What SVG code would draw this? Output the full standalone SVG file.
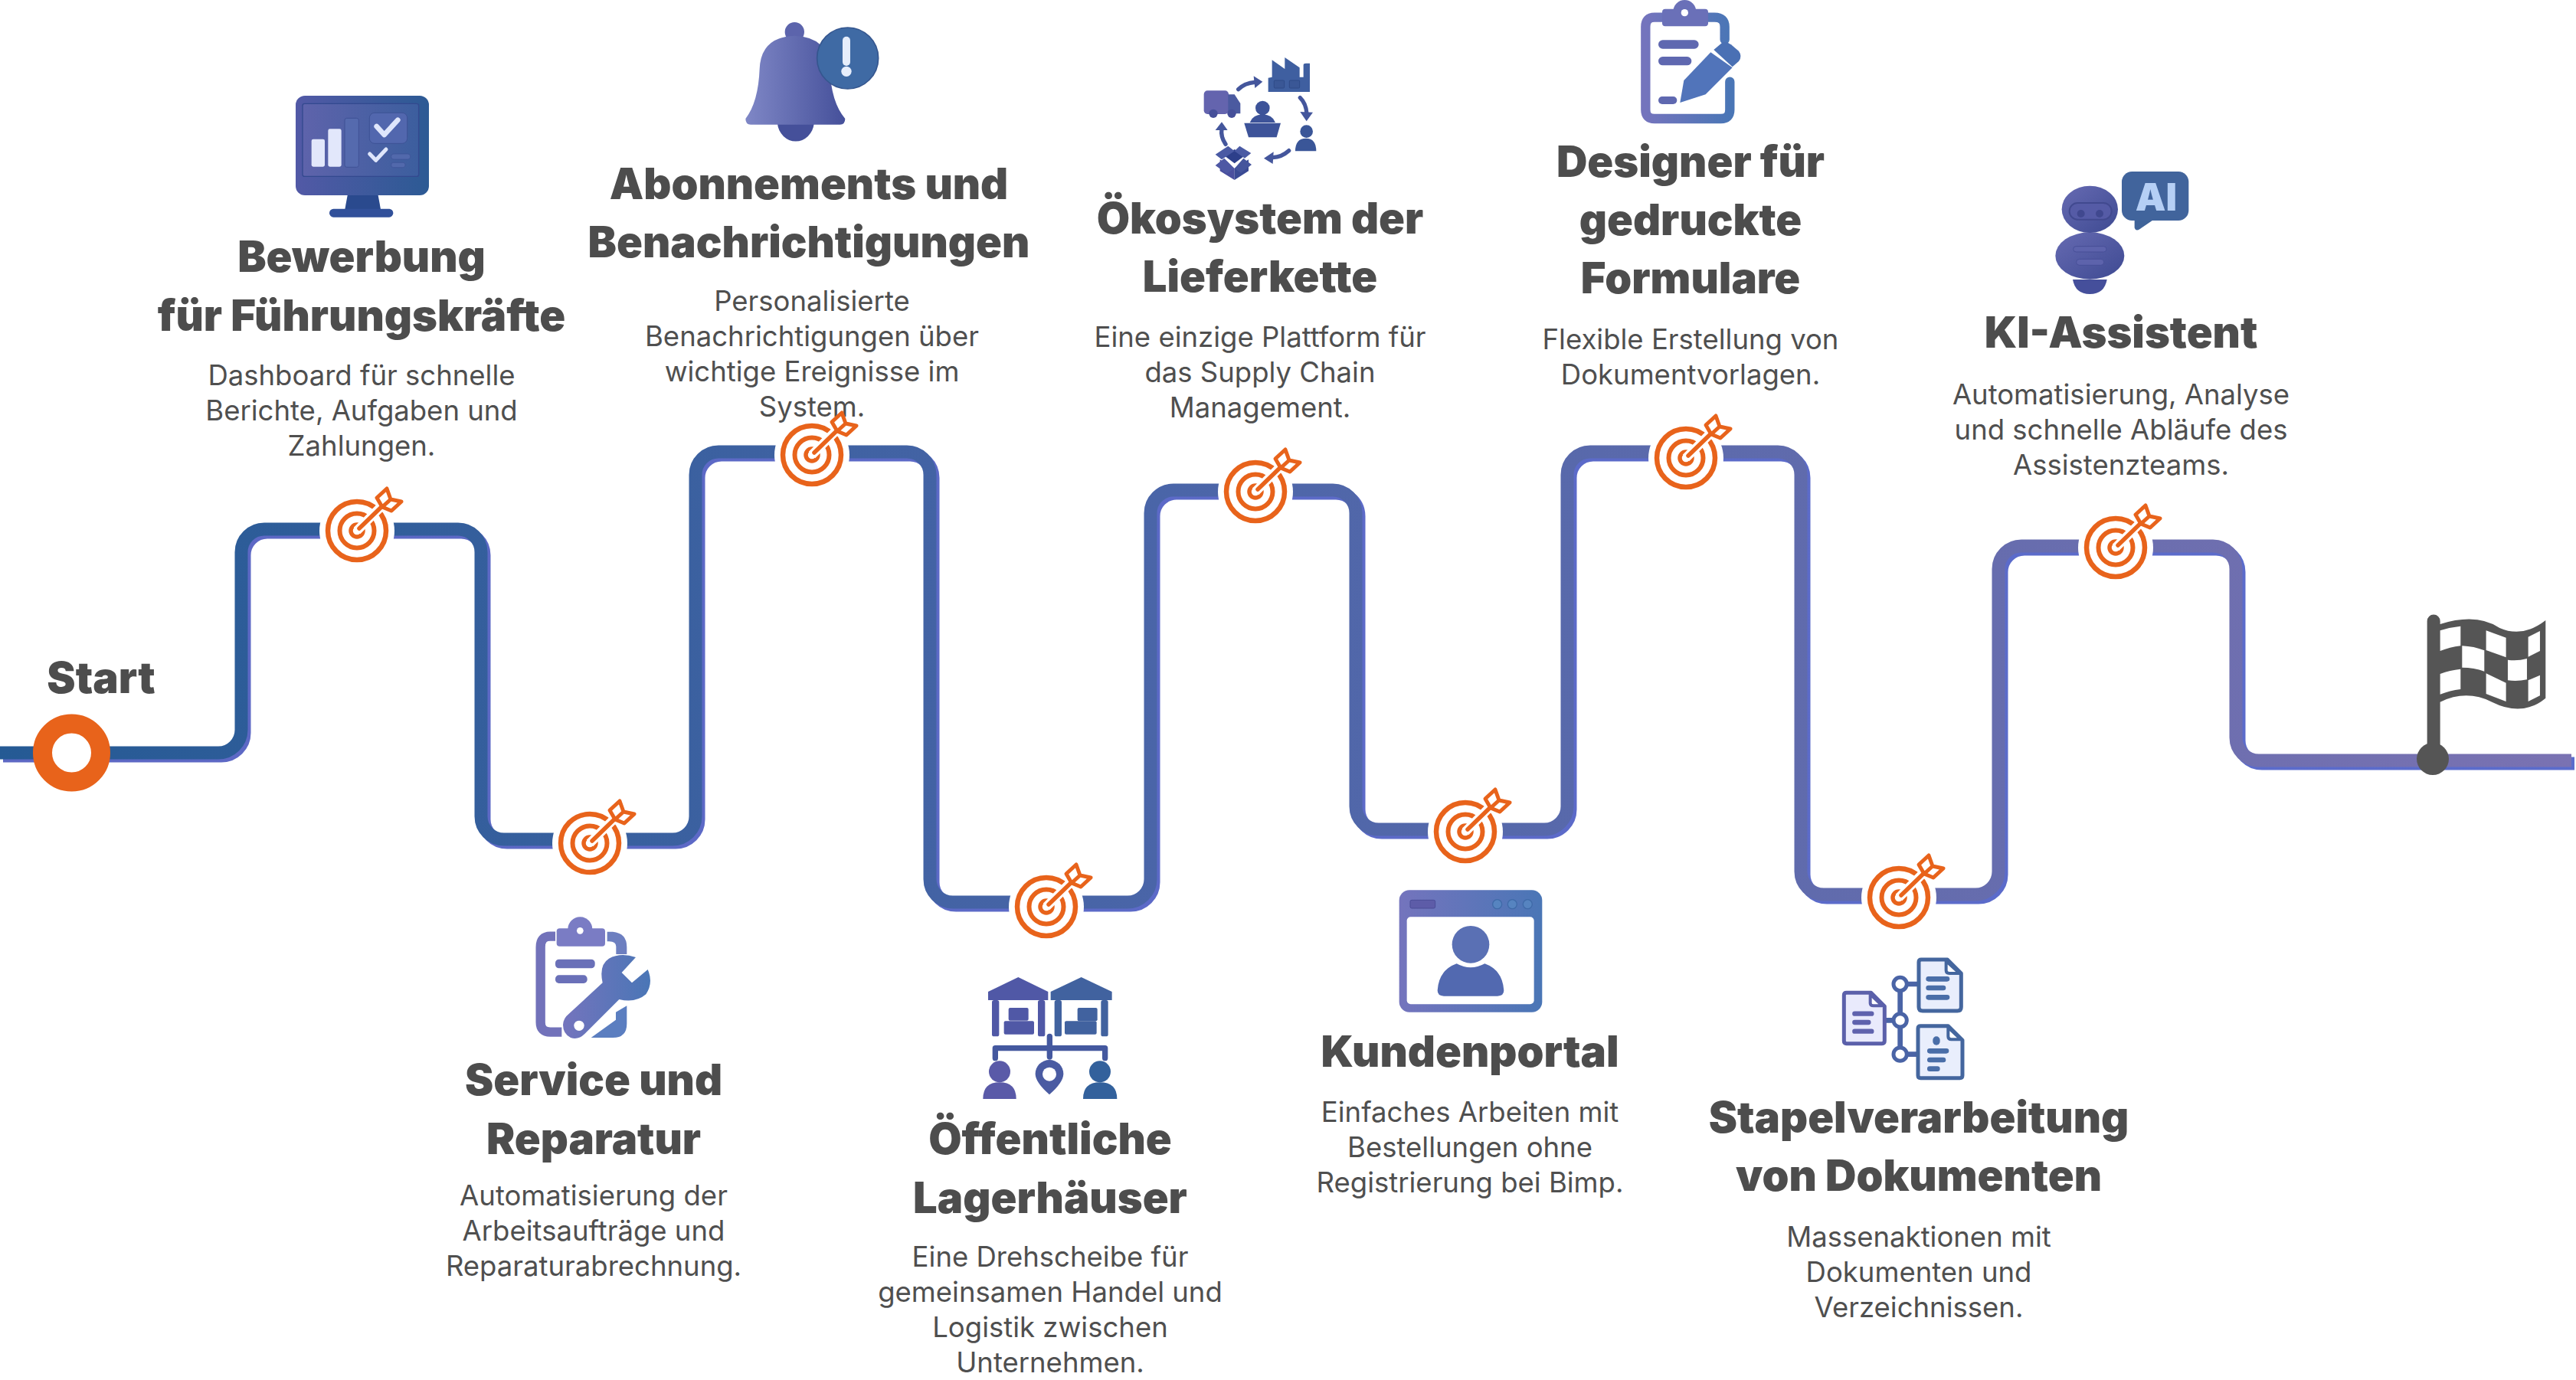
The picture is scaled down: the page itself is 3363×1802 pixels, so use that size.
<svg xmlns="http://www.w3.org/2000/svg" width="3363" height="1802" viewBox="0 0 3363 1802">
<style>
.h{font-family:Inter,"Liberation Sans",sans-serif;font-weight:900;font-size:56px;fill:#4d4d4d;text-anchor:middle}
.b{font-family:Inter,"Liberation Sans",sans-serif;font-weight:400;font-size:36.5px;fill:#4f4f4f;text-anchor:middle}
.r{fill:none;stroke:#e8631b}
.w{fill:#fff}
</style>
<defs>
<linearGradient id="line" gradientUnits="userSpaceOnUse" x1="0" y1="0" x2="3363" y2="0"><stop offset="0" stop-color="#255a94"/><stop offset=".45" stop-color="#4a65a8"/><stop offset="1" stop-color="#7a72b2"/></linearGradient>
<linearGradient id="lineS" gradientUnits="userSpaceOnUse" x1="0" y1="0" x2="3363" y2="0"><stop offset="0" stop-color="#5d68c4"/><stop offset="1" stop-color="#5b6ccc"/></linearGradient>
<linearGradient id="ic"><stop offset="0" stop-color="#5259a6"/><stop offset="1" stop-color="#2c5a94"/></linearGradient>
<linearGradient id="scr"><stop offset="0" stop-color="#5e63ab"/><stop offset="1" stop-color="#3c5e9e"/></linearGradient>
<linearGradient id="ic2"><stop offset="0" stop-color="#7474bd"/><stop offset="1" stop-color="#4a76b6"/></linearGradient>
<linearGradient id="bell"><stop offset="0" stop-color="#7f87c6"/><stop offset="1" stop-color="#45509a"/></linearGradient>
<linearGradient id="robot" x1="0" y1="0" x2="1" y2="1"><stop offset="0" stop-color="#666ab2"/><stop offset="1" stop-color="#3e4a92"/></linearGradient>
<g id="target">
<circle r="49" class="w"/>
<circle r="38" class="r" stroke-width="6.5"/>
<circle r="22.5" class="r" stroke-width="6"/>
<circle r="8" class="r" stroke-width="5.5"/>
<path d="M0 0L40 -40" stroke="#fff" stroke-width="12" fill="none"/>
<path d="M3 -3L34 -33" stroke="#e8631b" stroke-width="5.5" stroke-linecap="round" fill="none"/>
<path d="M33 -31L26 -43L39 -55L44 -41L58 -38L45 -26ZM33 -31L44 -41" fill="#fff" stroke="#e8631b" stroke-width="5" stroke-linejoin="round"/>
</g>
</defs>
<rect width="3363" height="1802" fill="#fff"/>
<g id="connectors" fill="none" stroke-width="17">
<path id="route-shadow" transform="translate(4 4)" stroke="url(#lineS)" d="M0 983H285a30 30 0 0 0 30-30V721a30 30 0 0 1 30-30H598a30 30 0 0 1 30 30V1066a30 30 0 0 0 30 30H878a30 30 0 0 0 30-30V620a30 30 0 0 1 30-30H1184a30 30 0 0 1 30 30V1148a30 30 0 0 0 30 30H1472a30 30 0 0 0 30-30V670a30 30 0 0 1 30-30H1740a30 30 0 0 1 30 30V1053a30 30 0 0 0 30 30H2016a30 30 0 0 0 30-30V620a30 30 0 0 1 30-30H2321a30 30 0 0 1 30 30V1138a30 30 0 0 0 30 30H2579a30 30 0 0 0 30-30V743a30 30 0 0 1 30-30H2889a30 30 0 0 1 30 30V963a30 30 0 0 0 30 30H3357"/>
<path id="route" stroke="url(#line)" d="M0 983H285a30 30 0 0 0 30-30V721a30 30 0 0 1 30-30H598a30 30 0 0 1 30 30V1066a30 30 0 0 0 30 30H878a30 30 0 0 0 30-30V620a30 30 0 0 1 30-30H1184a30 30 0 0 1 30 30V1148a30 30 0 0 0 30 30H1472a30 30 0 0 0 30-30V670a30 30 0 0 1 30-30H1740a30 30 0 0 1 30 30V1053a30 30 0 0 0 30 30H2016a30 30 0 0 0 30-30V620a30 30 0 0 1 30-30H2321a30 30 0 0 1 30 30V1138a30 30 0 0 0 30 30H2579a30 30 0 0 0 30-30V743a30 30 0 0 1 30-30H2889a30 30 0 0 1 30 30V963a30 30 0 0 0 30 30H3357"/>
</g>

<g id="start">
<circle cx="93.5" cy="983" r="38" fill="#fff" stroke="#e8631b" stroke-width="25"/>
<text class="h" x="132" y="905">Start</text>
</g>

<g id="node-bewerbung">
<g transform="translate(380 120) scale(.3333)">
<path d="M222 400H340L352 465H210Z" fill="#2a4a8e"/><rect x="150" y="458" width="250" height="33" rx="16" fill="#31509a"/>
<rect x="18" y="15" width="522" height="390" rx="36" fill="url(#ic)"/>
<rect x="45" y="46" width="455" height="285" rx="8" fill="url(#scr)" stroke="#33498f" stroke-width="4"/>
<rect x="80" y="185" width="52" height="108" rx="7" fill="#e2e7fb"/><rect x="145" y="145" width="52" height="148" rx="7" fill="#e2e7fb"/><rect x="210" y="103" width="55" height="192" rx="8" fill="#556aae" stroke="#3f5196" stroke-width="3"/>
<rect x="307" y="82" width="148" height="120" rx="20" fill="#5267ae" stroke="#3d5296" stroke-width="3"/>
<path d="M335 135L365 168L418 110" fill="none" stroke="#dfe6fb" stroke-width="20" stroke-linecap="round" stroke-linejoin="round"/>
<path d="M308 243L332 268L372 225" fill="none" stroke="#dfe6fb" stroke-width="15" stroke-linecap="round" stroke-linejoin="round"/>
<rect x="392" y="243" width="75" height="21" rx="10" fill="#5269ac" stroke="#3d5296" stroke-width="2"/><rect x="392" y="277" width="55" height="19" rx="9" fill="#5269ac" stroke="#3d5296" stroke-width="2"/>
</g>
<text class="h" x="472" y="355">Bewerbung</text><text class="h" x="472" y="432">für Führungskräfte</text>
<text class="b" x="472" y="503">Dashboard für schnelle</text><text class="b" x="472" y="549">Berichte, Aufgaben und</text><text class="b" x="472" y="595">Zahlungen.</text>
<use href="#target" x="466" y="693"/>
</g>

<g id="node-service">
<g transform="translate(680 1180) scale(.3333)">
<path d="M135 128H115Q77 128 77 170V465Q77 503 115 503H160" fill="none" stroke="#7272ba" stroke-width="37" stroke-linejoin="round"/>
<path d="M338 110H360Q415 115 415 170V198L373 198V168Q373 145 338 148Z" fill="#6d7fc0"/>
<path d="M415 400V470Q415 525 360 525H275L372 455V425Z" fill="#5b7ec0"/>
<circle cx="232" cy="100" r="48" fill="#7a7cc4"/><rect x="140" y="97" width="190" height="70" rx="12" fill="#7a7cc4"/><circle cx="232" cy="106" r="13" class="w"/>
<rect x="135" y="218" width="155" height="35" rx="14" fill="#6a70b8"/><rect x="135" y="280" width="125" height="32" rx="14" fill="#6a70b8"/>
<path d="M165 475Q165 450 190 430L320 310Q305 240 345 215Q390 190 450 210L395 270L435 310L497 258Q520 310 490 355Q450 390 385 375L250 510Q225 535 195 525Q165 510 165 475Z" fill="url(#ic2)"/>
<circle cx="228" cy="478" r="20" class="w"/>
</g>
<text class="h" x="775" y="1430">Service und</text><text class="h" x="775" y="1507">Reparatur</text>
<text class="b" x="775" y="1574">Automatisierung der</text><text class="b" x="775" y="1620">Arbeitsaufträge und</text><text class="b" x="775" y="1666">Reparaturabrechnung.</text>
<use href="#target" x="770" y="1101"/>
</g>

<g id="node-abonnements">
<g transform="translate(950 0) scale(.3333)">
<circle cx="262" cy="125" r="38" fill="#5c64ac"/>
<path d="M195 485A72 78 0 0 0 338 485Z" fill="#45509a"/>
<path d="M70 465Q120 400 125 270Q130 145 262 140Q395 145 400 270Q405 400 460 465Q460 488 440 488H90Q70 488 70 465Z" fill="url(#bell)"/>
<circle cx="470" cy="228" r="120" fill="#3f6aa4" stroke="#35568f" stroke-width="5"/>
<rect x="450" y="143" width="30" height="115" rx="15" fill="#e6edfb"/><circle cx="465" cy="280" r="20" fill="#e6edfb"/>
</g>
<text class="h" x="1056" y="260">Abonnements und</text><text class="h" x="1056" y="336">Benachrichtigungen</text>
<text class="b" x="1060" y="406">Personalisierte</text><text class="b" x="1060" y="452">Benachrichtigungen über</text><text class="b" x="1060" y="498">wichtige Ereignisse im</text><text class="b" x="1060" y="544">System.</text>
<use href="#target" x="1060" y="594"/>
</g>

<g id="node-lagerhaeuser">
<g transform="translate(1270 1260) scale(.3333)">
<path d="M60 105L178 48L295 105V138H60Z" fill="#5058a6"/><rect x="75" y="138" width="28" height="142" rx="8" fill="#5058a6"/><rect x="255" y="138" width="28" height="142" rx="8" fill="#5058a6"/>
<rect x="140" y="168" width="78" height="50" rx="6" fill="#5058a6"/><rect x="122" y="220" width="118" height="52" rx="6" fill="#5058a6"/>
<path d="M305 105L425 48L545 105V138H305Z" fill="#41629f"/><rect x="320" y="138" width="28" height="142" rx="8" fill="#41629f"/><rect x="502" y="138" width="28" height="142" rx="8" fill="#41629f"/>
<rect x="410" y="168" width="78" height="52" rx="6" fill="#41629f"/><rect x="360" y="220" width="125" height="52" rx="6" fill="#41629f"/>
<path d="M88 365V326H518V365M301 280V360" fill="none" stroke="#44589f" stroke-width="22" stroke-linecap="round" stroke-linejoin="round"/>
<circle cx="105" cy="418" r="42" fill="#5a5aa8"/><path d="M40 525Q40 460 105 460Q170 460 170 525Z" fill="#5a5aa8"/>
<path d="M300 372A55 55 0 0 1 355 427Q355 460 300 508Q245 460 245 427A55 55 0 0 1 300 372Z" fill="#4a5ba2"/><circle cx="300" cy="428" r="27" class="w"/>
<circle cx="498" cy="418" r="42" fill="#33619c"/><path d="M432 525Q432 460 498 460Q565 460 565 525Z" fill="#33619c"/>
</g>
<text class="h" x="1371" y="1507">Öffentliche</text><text class="h" x="1371" y="1584">Lagerhäuser</text>
<text class="b" x="1371" y="1654">Eine Drehscheibe für</text><text class="b" x="1371" y="1700">gemeinsamen Handel und</text><text class="b" x="1371" y="1746">Logistik zwischen</text><text class="b" x="1371" y="1792">Unternehmen.</text>
<use href="#target" x="1366" y="1184"/>
</g>

<g id="node-oekosystem">
<g transform="translate(1540 60) scale(.3333)">
<path d="M347 125L362 122V55L412 90V45L470 85V122H485V75Q485 68 495 68H510V180H347Z" fill="#3f5fa0"/>
<rect x="370" y="135" width="40" height="30" rx="3" fill="#3a5796" stroke="#2f4a88" stroke-width="3"/><rect x="430" y="135" width="40" height="30" rx="3" fill="#3a5796" stroke="#2f4a88" stroke-width="3"/>
<rect x="95" y="175" width="97" height="92" rx="14" fill="#6464ae"/><path d="M190 190H215L238 225V265H190Z" fill="#4b5aa0"/>
<circle cx="132" cy="265" r="17" fill="#454f99"/><circle cx="204" cy="265" r="17" fill="#454f99"/>
<g fill="none" stroke="#44569c" stroke-width="16" stroke-linecap="round"><path d="M230 170Q255 145 295 142"/><path d="M472 203Q495 225 498 265"/><path d="M428 410Q400 435 365 437"/><path d="M180 385Q160 355 165 325"/></g>
<g fill="#44569c"><path d="M290 118L325 140L295 165Z"/><path d="M472 258L522 260L497 295Z"/><path d="M368 415L330 440L365 462Z"/><path d="M140 330L165 298L188 330Z"/></g>
<circle cx="325" cy="243" r="28" fill="#3d5399"/><path d="M275 300Q285 270 325 268Q365 270 375 300Z" fill="#3d5399"/><path d="M253 302H396L380 358H270Z" fill="#3d5399"/>
<circle cx="497" cy="335" r="25" fill="#3a5698"/><path d="M453 412Q453 362 495 362Q535 362 535 412Z" fill="#3a5698"/>
<path d="M175 430L215 405L255 430L215 460Z" fill="#2d3f8a"/><path d="M140 425L190 392L215 412L165 445Z" fill="#4a5aa4"/><path d="M215 412L235 392L280 420L255 440Z" fill="#4a5aa4"/>
<path d="M158 445L215 480V525L158 490Z" fill="#4a4f9e"/><path d="M215 480L270 445V490L215 525Z" fill="#3a4a94"/>
<path d="M140 468L175 440L215 480L185 500Z" fill="#4e58a4"/><path d="M215 480L250 440L282 465L240 498Z" fill="#44549c"/>
</g>
<text class="h" x="1645" y="305">Ökosystem der</text><text class="h" x="1645" y="381">Lieferkette</text>
<text class="b" x="1645" y="453">Eine einzige Plattform für</text><text class="b" x="1645" y="499">das Supply Chain</text><text class="b" x="1645" y="545">Management.</text>
<use href="#target" x="1639" y="642"/>
</g>

<g id="node-kundenportal">
<g transform="translate(1800 1140) scale(.3333)">
<rect x="80" y="67" width="560" height="478" rx="40" fill="url(#ic2)"/>
<rect x="110" y="172" width="498" height="342" rx="15" class="w"/>
<rect x="123" y="106" width="98" height="32" rx="6" fill="#5d5ca8" stroke="#4a4c98" stroke-width="3"/>
<circle cx="464" cy="122" r="18" fill="#5684c0" stroke="#3f6aa8" stroke-width="4"/><circle cx="523" cy="122" r="18" fill="#5684c0" stroke="#3f6aa8" stroke-width="4"/><circle cx="583" cy="122" r="18" fill="#5684c0" stroke="#3f6aa8" stroke-width="4"/>
<circle cx="360" cy="280" r="73" fill="#5a70b4"/>
<path d="M230 460Q235 380 305 355Q360 385 415 355Q485 380 490 460Q490 482 465 482H255Q230 482 230 460Z" fill="#5269b0"/>
</g>
<text class="h" x="1919" y="1393">Kundenportal</text>
<text class="b" x="1919" y="1465">Einfaches Arbeiten mit</text><text class="b" x="1919" y="1511">Bestellungen ohne</text><text class="b" x="1919" y="1557">Registrierung bei Bimp.</text>
<use href="#target" x="1913" y="1086"/>
</g>

<g id="node-designer">
<g transform="translate(2120 0) scale(.3333)">
<path d="M395 155V105Q395 68 355 68H120Q85 68 85 105V430Q85 465 120 465H380Q415 465 415 430V320" fill="none" stroke="url(#ic2)" stroke-width="37" stroke-linecap="round"/>
<circle cx="238" cy="45" r="45" fill="#6a70b8"/><rect x="150" y="35" width="180" height="68" rx="12" fill="#6a70b8"/><circle cx="238" cy="50" r="14" class="w"/>
<rect x="135" y="157" width="158" height="34" rx="17" fill="#5f68b0"/><rect x="135" y="222" width="130" height="34" rx="17" fill="#5f68b0"/><rect x="135" y="378" width="73" height="30" rx="15" fill="#5f68b0"/>
<path d="M235 315L340 205L425 265L320 370L220 402Z" fill="#5174ba"/>
<path d="M352 195L385 167Q400 160 420 175L450 200Q465 220 450 240L425 262Z" fill="#4a70b4"/>
</g>
<text class="h" x="2207" y="231">Designer für</text><text class="h" x="2207" y="307">gedruckte</text><text class="h" x="2207" y="383">Formulare</text>
<text class="b" x="2207" y="456">Flexible Erstellung von</text><text class="b" x="2207" y="502">Dokumentvorlagen.</text>
<use href="#target" x="2201" y="598"/>
</g>

<g id="node-stapel">
<g transform="translate(2380 1230) scale(.3333)">
<path d="M302 165V440M330 165H372M245 307H275M330 440H372" stroke="#4a64a6" stroke-width="20" fill="none"/>
<circle cx="302" cy="165" r="26" fill="#fff" stroke="#4a64a6" stroke-width="15"/><circle cx="302" cy="307" r="26" fill="#fff" stroke="#4a64a6" stroke-width="15"/><circle cx="302" cy="440" r="26" fill="#fff" stroke="#4a64a6" stroke-width="15"/>
<path d="M385 69H487L541 123V255Q541 270 526 270H390Q375 270 375 255V79Q375 69 385 69Z" fill="#e9eefc" stroke="#44669e" stroke-width="15" stroke-linejoin="round"/>
<path d="M482 75V112Q482 123 495 123H535Z" fill="#fff" stroke="#44669e" stroke-width="12" stroke-linejoin="round"/>
<path d="M92 199H188L241 252V388Q241 398 231 398H92Q82 398 82 388V209Q82 199 92 199Z" fill="#e9eafc" stroke="#5b60aa" stroke-width="15" stroke-linejoin="round"/>
<path d="M185 205V240Q185 250 198 250H232Z" fill="#fff" stroke="#5b60aa" stroke-width="12" stroke-linejoin="round"/>
<path d="M382 329H490L546 385V523Q546 533 536 533H382Q372 533 372 523V339Q372 329 382 329Z" fill="#e9eefc" stroke="#44669e" stroke-width="15" stroke-linejoin="round"/>
<path d="M490 335V370Q490 382 503 382H540Z" fill="#fff" stroke="#44669e" stroke-width="12" stroke-linejoin="round"/>
<g fill="none" stroke="#4a6ea8" stroke-width="20" stroke-linecap="round"><path d="M413 145H486M413 180H471M413 217H486M418 427H483M418 462H471M418 497H448"/></g>
<rect x="430" y="370" width="28" height="34" rx="14" fill="#4a6ea8"/>
<path d="M124 281H190M124 315H178M124 350H190" fill="none" stroke="#5f62ad" stroke-width="19" stroke-linecap="round"/>
</g>
<text class="h" x="2505" y="1479">Stapelverarbeitung</text><text class="h" x="2505" y="1555">von Dokumenten</text>
<text class="b" x="2505" y="1628">Massenaktionen mit</text><text class="b" x="2505" y="1674">Dokumenten und</text><text class="b" x="2505" y="1720">Verzeichnissen.</text>
<use href="#target" x="2479" y="1172"/>
</g>

<g id="node-ki">
<g transform="translate(2660 210) scale(.3333)">
<path d="M138 465H272Q262 522 205 522Q148 522 138 465Z" fill="#454f9b"/>
<ellipse cx="205" cy="372" rx="135" ry="92" fill="url(#robot)"/>
<ellipse cx="205" cy="190" rx="110" ry="92" fill="url(#robot)"/>
<rect x="125" y="165" width="165" height="65" rx="32" fill="#555ba6" stroke="#41498f" stroke-width="6"/>
<circle cx="170" cy="207" r="15" fill="#40488f"/><circle cx="243" cy="207" r="15" fill="#40488f"/>
<rect x="140" y="335" width="130" height="22" rx="11" fill="#5d63ac" stroke="#474f98" stroke-width="3"/><rect x="152" y="385" width="108" height="24" rx="12" fill="#5d63ac" stroke="#474f98" stroke-width="3"/>
<path d="M380 220V262Q385 278 400 268L455 230Z" fill="#3f6399"/>
<rect x="330" y="42" width="262" height="192" rx="40" fill="#41649c"/>
<text x="465" y="196" text-anchor="middle" font-family="Inter,'Liberation Sans',sans-serif" font-weight="900" font-size="150" fill="#b5cff5">AI</text>
</g>
<text class="h" x="2769" y="454">KI-Assistent</text>
<text class="b" x="2769" y="528">Automatisierung, Analyse</text><text class="b" x="2769" y="574">und schnelle Abläufe des</text><text class="b" x="2769" y="620">Assistenzteams.</text>
<use href="#target" x="2762" y="715"/>
</g>

<g id="finish">
<circle cx="3176" cy="991" r="21" fill="#555"/>
<g transform="translate(2900 780) scale(.3333)">
<path d="M806 600V93A25 25 0 0 1 857 93V105Q1000 60 1090 120Q1180 160 1270 90V395Q1180 470 1060 410Q960 360 857 410V600Z" fill="#555"/>
<g fill="#fff"><path d="M857 130Q895 117 937 113V190Q895 195 857 210Z"/><path d="M1037 130L1115 158V235L1037 207Z"/><path d="M1202 155L1248 132V210L1202 233Z"/><path d="M943 190Q990 192 1030 208V290Q990 275 943 275Z"/><path d="M1122 245Q1160 250 1197 240V322Q1160 330 1122 325Z"/><path d="M857 300Q895 285 937 281V360Q895 365 857 380Z"/><path d="M1037 298L1115 335V408L1037 378Z"/><path d="M1202 325L1248 305V385L1202 408Z"/></g>
</g>
</g>
</svg>
